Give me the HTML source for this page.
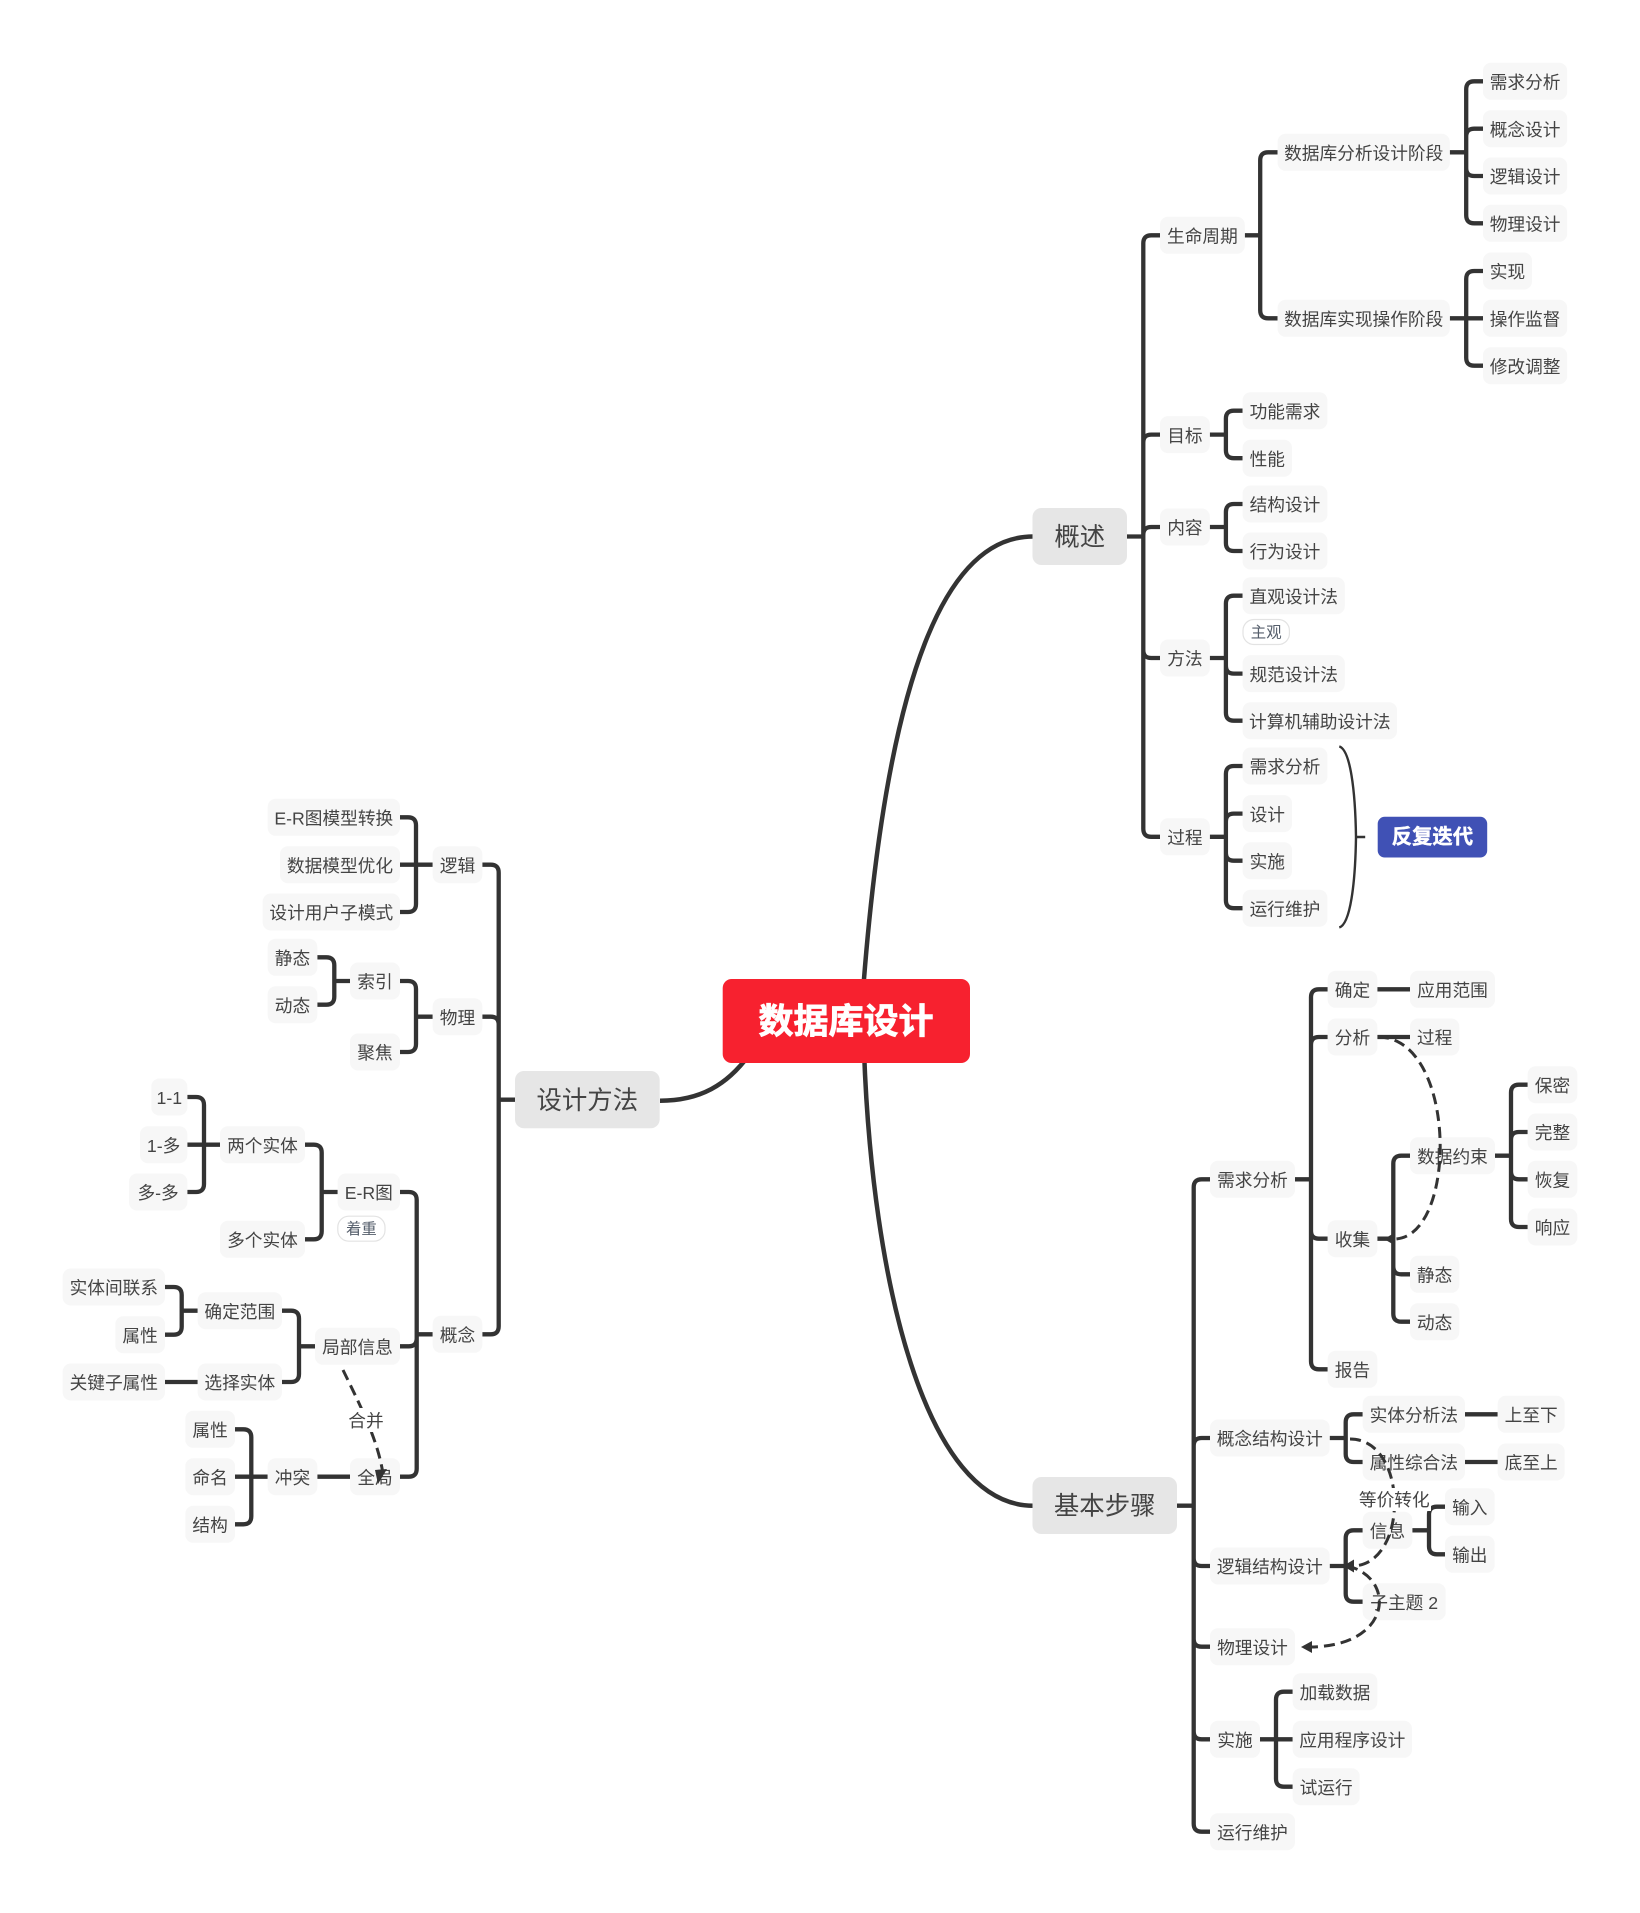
<!DOCTYPE html>
<html lang="zh"><head><meta charset="utf-8"><title>数据库设计</title>
<style>
html,body{margin:0;padding:0;background:#fff}
svg{display:block}
text{font-family:"Liberation Sans","Noto Sans CJK SC",sans-serif;text-anchor:middle;dominant-baseline:central;fill:#444;font-size:17.7px;transform:translateY(1.2px)}
.n{fill:#f7f7f7}
.m{fill:#e6e6e6}
.c{fill:none;stroke:#333;stroke-width:4.300;stroke-linecap:butt}
.d{fill:none;stroke:#333;stroke-width:3;stroke-dasharray:11 6}
text.big{font-size:25.4px}
.tag{fill:#fff;stroke:#e3e3e3;stroke-width:1.2}
text.tt{font-size:15.4px;fill:#555e6b}
</style></head><body>
<svg xmlns="http://www.w3.org/2000/svg" width="1640" height="1913" viewBox="0 0 1640 1913">
<rect width="1640" height="1913" fill="#fff"/>
<!-- main curves -->
<g class="c" style="stroke-width:4.5">
<path d="M861 1020C885 660 950 536.5 1033 536.5"/>
<path d="M864 1050C872 1280 925 1505.7 1033 1505.7"/>
<path d="M660 1100.700C700 1100.700 727 1085 749 1055"/>
</g>
<!-- connectors -->
<g class="c">
<path d="M1160 235.300H1151.300Q1143.300 235.300 1143.300 243.300V828.800Q1143.300 836.800 1151.300 836.800H1160M1127 536.500H1143.300M1160 434.600H1151.300Q1143.300 434.600 1143.300 442.600M1160 527H1151.300Q1143.300 527 1143.300 535M1160 658H1151.300Q1143.300 658 1143.300 650"/>
<path d="M1244.800 235.300H1260.200M1277.600 152.300H1268.200Q1260.200 152.300 1260.200 160.300V310.300Q1260.200 318.300 1268.200 318.300H1277.600"/>
<path d="M1449.800 152.300H1466.200M1483 81.300H1474.200Q1466.200 81.300 1466.200 89.300V215.300Q1466.200 223.300 1474.200 223.300H1483M1483 128.700H1474.200Q1466.200 128.700 1466.200 136.700M1483 176H1474.200Q1466.200 176 1466.200 168"/>
<path d="M1449.800 318.300H1483M1483 271H1474.200Q1466.200 271 1466.200 279V357.700Q1466.200 365.700 1474.200 365.700H1483"/>
<path d="M1209.800 434.600H1225.900M1242.600 410.700H1233.900Q1225.900 410.700 1225.900 418.700V450.200Q1225.900 458.200 1233.900 458.200H1242.600"/>
<path d="M1209.800 527H1225.900M1242.600 504H1233.900Q1225.900 504 1225.900 512V543Q1225.900 551 1233.900 551H1242.600"/>
<path d="M1209.800 658H1225.900M1242.600 595.700H1233.900Q1225.900 595.700 1225.900 603.700V712.700Q1225.900 720.700 1233.900 720.700H1242.600M1242.600 673.600H1233.900Q1225.900 673.600 1225.900 665.600"/>
<path d="M1209.800 836.800H1225.900M1242.600 766H1233.900Q1225.900 766 1225.900 774V900.200Q1225.900 908.200 1233.900 908.200H1242.600M1242.600 813.600H1233.900Q1225.900 813.600 1225.900 821.600M1242.600 860.700H1233.900Q1225.900 860.700 1225.900 852.700"/>
<path d="M1177 1505.700H1193.700M1210 1179.300H1201.700Q1193.700 1179.300 1193.700 1187.300V1823.700Q1193.700 1831.700 1201.700 1831.700H1210M1210 1438H1201.700Q1193.700 1438 1193.700 1446M1210 1566H1201.700Q1193.700 1566 1193.700 1558M1210 1646.700H1201.700Q1193.700 1646.700 1193.700 1638.700M1210 1739.300H1201.700Q1193.700 1739.300 1193.700 1731.300"/>
<path d="M1295 1179.300H1311M1327.700 989.300H1319Q1311 989.300 1311 997.300V1361.300Q1311 1369.300 1319 1369.300H1327.700M1327.700 1037H1319Q1311 1037 1311 1045M1327.700 1238.700H1319Q1311 1238.700 1311 1230.700"/>
<path d="M1377.300 989.300H1410M1377.300 1037H1410"/>
<path d="M1377.300 1238.700H1393.300M1410 1155.700H1401.300Q1393.300 1155.700 1393.300 1163.700V1313.700Q1393.300 1321.700 1401.300 1321.700H1410M1410 1274.300H1401.300Q1393.300 1274.300 1393.300 1266.300"/>
<path d="M1495 1155.700H1511M1527.700 1084.700H1519Q1511 1084.700 1511 1092.700V1219Q1511 1227 1519 1227H1527.700M1527.700 1132H1519Q1511 1132 1511 1140M1527.700 1179.300H1519Q1511 1179.300 1511 1171.300"/>
<path d="M1329.700 1438H1345.700M1362.700 1414.300H1353.700Q1345.700 1414.300 1345.700 1422.300V1454Q1345.700 1462 1353.700 1462H1362.700"/>
<path d="M1465 1414.300H1497.700M1465 1462H1497.700"/>
<path d="M1329.700 1566H1345.700M1362.700 1530.300H1353.700Q1345.700 1530.300 1345.700 1538.300V1593.700Q1345.700 1601.700 1353.700 1601.700H1362.700"/>
<path d="M1412.300 1530.300H1429M1445 1506.700H1437Q1429 1506.700 1429 1514.700V1546.300Q1429 1554.300 1437 1554.300H1445"/>
<path d="M1260 1739.300H1292.700M1292.700 1691.700H1284Q1276 1691.700 1276 1699.700V1778.700Q1276 1786.700 1284 1786.700H1292.700"/>
<!-- left -->
<path d="M515 1099.700H498.700M482.300 864.700H490.700Q498.700 864.700 498.700 872.700V1326.300Q498.700 1334.300 490.700 1334.300H482.300M482.300 1016.700H490.700Q498.700 1016.700 498.700 1024.700"/>
<path d="M432.700 864.700H400M400 817.300H408Q416 817.300 416 825.300V904Q416 912 408 912H400"/>
<path d="M432.700 1016.700H416M400 981H408Q416 981 416 989V1044Q416 1052 408 1052H400"/>
<path d="M350 981H334.300M317.300 957.300H326.300Q334.300 957.300 334.300 965.300V996.700Q334.300 1004.700 326.300 1004.700H317.300"/>
<path d="M432.700 1334.300H416.700M400 1192H408.700Q416.700 1192 416.700 1200V1468.700Q416.700 1476.700 408.700 1476.700H400M400 1346.300H408.700Q416.700 1346.300 416.700 1338.300"/>
<path d="M337.700 1192H321.700M305 1144.700H313.700Q321.700 1144.700 321.700 1152.700V1231.300Q321.700 1239.300 313.700 1239.300H305"/>
<path d="M220 1144.700H187.300M187.300 1097H196Q204 1097 204 1105V1184Q204 1192 196 1192H187.300"/>
<path d="M315 1346.300H299M282 1310.700H291Q299 1310.700 299 1318.700V1374Q299 1382 291 1382H282"/>
<path d="M197.700 1310.700H181.700M165 1287H173.700Q181.700 1287 181.700 1295V1326.700Q181.700 1334.700 173.700 1334.700H165"/>
<path d="M197.700 1382H165M350 1476.700H317.300"/>
<path d="M267.700 1476.700H235M235 1429.300H243.300Q251.300 1429.300 251.300 1437.300V1516.300Q251.300 1524.300 243.300 1524.300H235"/>
</g>
<!-- brace -->
<path d="M1339.300 746.400C1350.300 750 1355.300 790 1356 837C1355.300 884 1350.300 924 1339.300 927.500M1356 837H1365.200" fill="none" stroke="#333" stroke-width="2.400"/>
<!-- root -->
<rect x="722.700" y="979" width="247.300" height="84" rx="9" fill="#f7212f"/>
<text x="846" y="1021" style="font-size:35px;font-weight:700;fill:#fff;stroke:#fff;stroke-width:.8">数据库设计</text>
<!-- level 1 -->
<rect class="m" x="1032.500" y="508" width="94.500" height="57" rx="9"/><text class="big" x="1079.800" y="536.500">概述</text>
<rect class="m" x="1032.500" y="1477" width="144.500" height="57" rx="9"/><text class="big" x="1104.700" y="1505.500">基本步骤</text>
<rect class="m" x="515" y="1071" width="144.700" height="57.300" rx="9"/><text class="big" x="587.300" y="1099.700">设计方法</text>
<!-- upper right nodes -->
<rect class="n" x="1483" y="62.800" width="84.200" height="37" rx="8"/><text x="1525.100" y="81.300">需求分析</text>
<rect class="n" x="1483" y="110.200" width="84.200" height="37" rx="8"/><text x="1525.100" y="128.700">概念设计</text>
<rect class="n" x="1483" y="157.500" width="84.200" height="37" rx="8"/><text x="1525.100" y="176">逻辑设计</text>
<rect class="n" x="1483" y="204.800" width="84.200" height="37" rx="8"/><text x="1525.100" y="223.300">物理设计</text>
<rect class="n" x="1483" y="252.500" width="49" height="37" rx="8"/><text x="1507.500" y="271">实现</text>
<rect class="n" x="1483" y="299.800" width="84.200" height="37" rx="8"/><text x="1525.100" y="318.300">操作监督</text>
<rect class="n" x="1483" y="347.200" width="84.200" height="37" rx="8"/><text x="1525.100" y="365.700">修改调整</text>
<rect class="n" x="1277.600" y="133.800" width="172.200" height="37" rx="8"/><text x="1363.700" y="152.300">数据库分析设计阶段</text>
<rect class="n" x="1277.600" y="299.800" width="172.200" height="37" rx="8"/><text x="1363.700" y="318.300">数据库实现操作阶段</text>
<rect class="n" x="1160" y="216.800" width="84.800" height="37" rx="8"/><text x="1202.400" y="235.300">生命周期</text>
<rect class="n" x="1160" y="416.100" width="49.800" height="37" rx="8"/><text x="1184.900" y="434.600">目标</text>
<rect class="n" x="1242.600" y="392.200" width="84.800" height="37" rx="8"/><text x="1285" y="410.700">功能需求</text>
<rect class="n" x="1242.600" y="439.700" width="49.400" height="37" rx="8"/><text x="1267.300" y="458.200">性能</text>
<rect class="n" x="1160" y="508.500" width="49.800" height="37" rx="8"/><text x="1184.900" y="527">内容</text>
<rect class="n" x="1242.600" y="485.500" width="84.800" height="37" rx="8"/><text x="1285" y="504">结构设计</text>
<rect class="n" x="1242.600" y="532.500" width="84.800" height="37" rx="8"/><text x="1285" y="551">行为设计</text>
<rect class="n" x="1160" y="639.500" width="49.800" height="37" rx="8"/><text x="1184.900" y="658">方法</text>
<rect class="n" x="1242.600" y="577.200" width="102.200" height="37" rx="8"/><text x="1293.700" y="595.700">直观设计法</text>
<rect class="tag" x="1243" y="619.500" width="46.400" height="25" rx="11"/><text class="tt" x="1266.200" y="632">主观</text>
<rect class="n" x="1242.600" y="655.100" width="102.200" height="37" rx="8"/><text x="1293.700" y="673.600">规范设计法</text>
<rect class="n" x="1242.600" y="702.200" width="154.400" height="37" rx="8"/><text x="1319.800" y="720.700">计算机辅助设计法</text>
<rect class="n" x="1160" y="818.300" width="49.800" height="37" rx="8"/><text x="1184.900" y="836.800">过程</text>
<rect class="n" x="1242.600" y="747.500" width="84.800" height="37" rx="8"/><text x="1285" y="766">需求分析</text>
<rect class="n" x="1242.600" y="795.100" width="49.400" height="37" rx="8"/><text x="1267.300" y="813.600">设计</text>
<rect class="n" x="1242.600" y="842.200" width="49.400" height="37" rx="8"/><text x="1267.300" y="860.700">实施</text>
<rect class="n" x="1242.600" y="889.700" width="84.800" height="37" rx="8"/><text x="1285" y="908.200">运行维护</text>
<rect x="1377.700" y="816.800" width="109.500" height="40.700" rx="7" fill="#4051b5"/>
<text x="1432.400" y="836.500" style="font-size:20.400px;font-weight:700;fill:#fff;stroke:#fff;stroke-width:.4">反复迭代</text>
<!-- lower right nodes -->
<rect class="n" x="1210" y="1160.800" width="85" height="37" rx="8"/><text x="1252.500" y="1179.300">需求分析</text>
<rect class="n" x="1327.700" y="970.800" width="49.600" height="37" rx="8"/><text x="1352.500" y="989.300">确定</text>
<rect class="n" x="1410" y="970.800" width="85" height="37" rx="8"/><text x="1452.500" y="989.300">应用范围</text>
<rect class="n" x="1327.700" y="1018.500" width="49.600" height="37" rx="8"/><text x="1352.500" y="1037">分析</text>
<rect class="n" x="1410" y="1018.500" width="49.300" height="37" rx="8"/><text x="1434.600" y="1037">过程</text>
<rect class="n" x="1327.700" y="1220.200" width="49.600" height="37" rx="8"/><text x="1352.500" y="1238.700">收集</text>
<rect class="n" x="1410" y="1137.200" width="85" height="37" rx="8"/><text x="1452.500" y="1155.700">数据约束</text>
<rect class="n" x="1410" y="1255.800" width="49.300" height="37" rx="8"/><text x="1434.600" y="1274.300">静态</text>
<rect class="n" x="1410" y="1303.200" width="49.300" height="37" rx="8"/><text x="1434.600" y="1321.700">动态</text>
<rect class="n" x="1327.700" y="1350.800" width="49.600" height="37" rx="8"/><text x="1352.500" y="1369.300">报告</text>
<rect class="n" x="1527.700" y="1066.200" width="49.600" height="37" rx="8"/><text x="1552.500" y="1084.700">保密</text>
<rect class="n" x="1527.700" y="1113.500" width="49.600" height="37" rx="8"/><text x="1552.500" y="1132">完整</text>
<rect class="n" x="1527.700" y="1160.800" width="49.600" height="37" rx="8"/><text x="1552.500" y="1179.300">恢复</text>
<rect class="n" x="1527.700" y="1208.500" width="49.600" height="37" rx="8"/><text x="1552.500" y="1227">响应</text>
<rect class="n" x="1210" y="1419.500" width="119.700" height="37" rx="8"/><text x="1269.800" y="1438">概念结构设计</text>
<rect class="n" x="1362.700" y="1395.800" width="102.300" height="37" rx="8"/><text x="1413.800" y="1414.300">实体分析法</text>
<rect class="n" x="1497.700" y="1395.800" width="67" height="37" rx="8"/><text x="1531.200" y="1414.300">上至下</text>
<rect class="n" x="1362.700" y="1443.500" width="102.300" height="37" rx="8"/><text x="1413.800" y="1462">属性综合法</text>
<rect class="n" x="1497.700" y="1443.500" width="67" height="37" rx="8"/><text x="1531.200" y="1462">底至上</text>
<rect class="n" x="1210" y="1547.500" width="119.700" height="37" rx="8"/><text x="1269.800" y="1566">逻辑结构设计</text>
<rect class="n" x="1362.700" y="1511.800" width="49.600" height="37" rx="8"/><text x="1387.500" y="1530.300">信息</text>
<rect class="n" x="1445" y="1488.200" width="49.700" height="37" rx="8"/><text x="1469.800" y="1506.700">输入</text>
<rect class="n" x="1445" y="1535.800" width="49.700" height="37" rx="8"/><text x="1469.800" y="1554.300">输出</text>
<rect class="n" x="1362.700" y="1583.200" width="83" height="37" rx="8"/><text x="1404.200" y="1601.700">子主题 2</text>
<rect class="n" x="1210" y="1628.200" width="85" height="37" rx="8"/><text x="1252.500" y="1646.700">物理设计</text>
<rect class="n" x="1210" y="1720.800" width="50" height="37" rx="8"/><text x="1235" y="1739.300">实施</text>
<rect class="n" x="1292.700" y="1673.200" width="84.600" height="37" rx="8"/><text x="1335" y="1691.700">加载数据</text>
<rect class="n" x="1292.700" y="1720.800" width="119.300" height="37" rx="8"/><text x="1352.300" y="1739.300">应用程序设计</text>
<rect class="n" x="1292.700" y="1768.200" width="67" height="37" rx="8"/><text x="1326.200" y="1786.700">试运行</text>
<rect class="n" x="1210" y="1813.200" width="85" height="37" rx="8"/><text x="1252.500" y="1831.700">运行维护</text>
<!-- left nodes -->
<rect class="n" x="432.700" y="846.200" width="49.600" height="37" rx="8"/><text x="457.500" y="864.700">逻辑</text>
<rect class="n" x="267.700" y="798.800" width="132.300" height="37" rx="8"/><text x="333.800" y="817.300">E-R图模型转换</text>
<rect class="n" x="280" y="846.200" width="120" height="37" rx="8"/><text x="340" y="864.700">数据模型优化</text>
<rect class="n" x="262.700" y="893.500" width="137.300" height="37" rx="8"/><text x="331.300" y="912">设计用户子模式</text>
<rect class="n" x="432.700" y="998.200" width="49.600" height="37" rx="8"/><text x="457.500" y="1016.700">物理</text>
<rect class="n" x="350" y="962.500" width="50" height="37" rx="8"/><text x="375" y="981">索引</text>
<rect class="n" x="350" y="1033.500" width="50" height="37" rx="8"/><text x="375" y="1052">聚焦</text>
<rect class="n" x="267.700" y="938.800" width="49.600" height="37" rx="8"/><text x="292.500" y="957.300">静态</text>
<rect class="n" x="267.700" y="986.200" width="49.600" height="37" rx="8"/><text x="292.500" y="1004.700">动态</text>
<rect class="n" x="432.700" y="1315.800" width="49.600" height="37" rx="8"/><text x="457.500" y="1334.300">概念</text>
<rect class="n" x="337.700" y="1173.500" width="62.300" height="37" rx="8"/><text x="368.800" y="1192">E-R图</text>
<rect class="tag" x="337.800" y="1216.200" width="47.200" height="25" rx="11"/><text class="tt" x="361.400" y="1228.500">着重</text>
<rect class="n" x="220" y="1126.200" width="85" height="37" rx="8"/><text x="262.500" y="1144.700">两个实体</text>
<rect class="n" x="220" y="1220.800" width="85" height="37" rx="8"/><text x="262.500" y="1239.300">多个实体</text>
<rect class="n" x="151.300" y="1078.500" width="36" height="37" rx="8"/><text x="169.300" y="1097">1-1</text>
<rect class="n" x="140" y="1126.200" width="47.300" height="37" rx="8"/><text x="163.600" y="1144.700">1-多</text>
<rect class="n" x="129" y="1173.500" width="58.300" height="37" rx="8"/><text x="158.100" y="1192">多-多</text>
<rect class="n" x="315" y="1327.800" width="85" height="37" rx="8"/><text x="357.500" y="1346.300">局部信息</text>
<rect class="n" x="197.700" y="1292.200" width="84.300" height="37" rx="8"/><text x="239.800" y="1310.700">确定范围</text>
<rect class="n" x="197.700" y="1363.500" width="84.300" height="37" rx="8"/><text x="239.800" y="1382">选择实体</text>
<rect class="n" x="62.700" y="1268.500" width="102.300" height="37" rx="8"/><text x="113.800" y="1287">实体间联系</text>
<rect class="n" x="115.300" y="1316.200" width="49.700" height="37" rx="8"/><text x="140.100" y="1334.700">属性</text>
<rect class="n" x="62.700" y="1363.500" width="102.300" height="37" rx="8"/><text x="113.800" y="1382">关键子属性</text>
<rect class="n" x="350" y="1458.200" width="50" height="37" rx="8"/><text x="375" y="1476.700">全局</text>
<rect class="n" x="267.700" y="1458.200" width="49.600" height="37" rx="8"/><text x="292.500" y="1476.700">冲突</text>
<rect class="n" x="185.300" y="1410.800" width="49.700" height="37" rx="8"/><text x="210.100" y="1429.300">属性</text>
<rect class="n" x="185.300" y="1458.200" width="49.700" height="37" rx="8"/><text x="210.100" y="1476.700">命名</text>
<rect class="n" x="185.300" y="1505.800" width="49.700" height="37" rx="8"/><text x="210.100" y="1524.300">结构</text>
<!-- dashed relationships -->
<path class="d" d="M1378 1037C1458 1037 1458 1239 1394 1239"/>
<polygon points="1384,1239 1395,1232.500 1395,1245.500" fill="#333"/>
<path class="d" d="M1350 1439C1409 1439 1409 1566 1352 1566"/>
<polygon points="1343,1566 1354,1559.500 1354,1572.500" fill="#333"/>
<path class="d" d="M1347 1566C1395 1576 1395 1646 1310 1647"/>
<polygon points="1301,1647 1312,1641 1312,1653" fill="#333"/>
<path class="d" d="M343 1370C360 1405 378 1440 383 1474"/>
<polygon points="378,1484 375,1470 387,1469" fill="#333"/>
<!-- relation labels -->
<rect x="1358" y="1488" width="73" height="23" fill="#fff"/><text x="1394.300" y="1499">等价转化</text>
<rect x="347" y="1408" width="38" height="24" fill="#fff"/><text x="366" y="1420">合并</text>
</svg>
</body></html>
